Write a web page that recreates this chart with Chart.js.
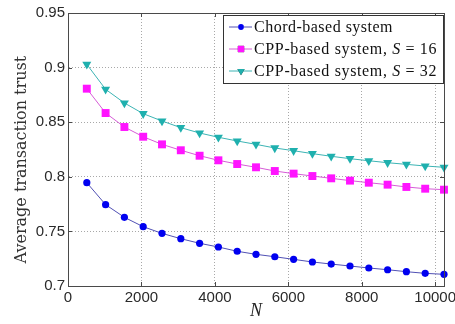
<!DOCTYPE html>
<html>
<head>
<meta charset="utf-8">
<script src="https://cdn.jsdelivr.net/npm/chart.js@4/dist/chart.umd.min.js"></script>
<style>
  body { margin: 0; background: #fff; }
  #wrap { width: 455px; height: 324px; }
</style>
</head>
<body>
<div id="wrap"><canvas id="trustChart" width="455" height="324"></canvas></div>
<script>
// network size N
const nValues = [512, 1024, 1536, 2048, 2560, 3072, 3584, 4096, 4608, 5120,
                 5632, 6144, 6656, 7168, 7680, 8192, 8704, 9216, 9728, 10240];

const chordTrust = [0.7946, 0.7745, 0.7629, 0.7543, 0.7482, 0.7433, 0.7391, 0.7357, 0.7318, 0.7290,
                    0.7268, 0.7244, 0.7220, 0.7201, 0.7183, 0.7165, 0.7149, 0.7131, 0.7116, 0.7107];
const cpp16Trust = [0.8807, 0.8584, 0.8456, 0.8367, 0.8297, 0.8243, 0.8193, 0.8151, 0.8117, 0.8087,
                    0.8053, 0.8029, 0.8007, 0.7986, 0.7965, 0.7946, 0.7928, 0.7907, 0.7891, 0.7882];
const cpp32Trust = [0.9030, 0.8801, 0.8676, 0.8578, 0.8511, 0.8450, 0.8401, 0.8362, 0.8328, 0.8297,
                    0.8264, 0.8239, 0.8212, 0.8188, 0.8166, 0.8147, 0.8129, 0.8114, 0.8099, 0.8087];

const xTicks = [0, 2000, 4000, 6000, 8000, 10000];
const yTicks = [0.7, 0.75, 0.8, 0.85, 0.9, 0.95];

const seriesLabels = [
  ['Chord-based system'],
  ['CPP-based system, ', 'S', ' = 16'],
  ['CPP-based system, ', 'S', ' = 32']
];

function toPoints(ys) {
  return nValues.map((n, i) => ({ x: n, y: ys[i] }));
}

const axisColor = '#4a4a4a';

// box around the axes, inward tick marks and the legend
const matlabBox = {
  id: 'matlabBox',
  afterDatasetsDraw(chart) {
    const ctx = chart.ctx;
    const a = chart.chartArea;
    const xs = chart.scales.x, ys = chart.scales.y;
    ctx.save();
    ctx.setLineDash([]);
    ctx.strokeStyle = axisColor;
    ctx.lineWidth = 1;
    ctx.strokeRect(Math.round(a.left) + 0.5, Math.round(a.top) + 0.5,
                   Math.round(a.right - a.left), Math.round(a.bottom - a.top));
    ctx.beginPath();
    xTicks.forEach(v => {
      const px = Math.round(xs.getPixelForValue(v)) + 0.5;
      ctx.moveTo(px, a.bottom); ctx.lineTo(px, a.bottom - 4);
      ctx.moveTo(px, a.top); ctx.lineTo(px, a.top + 4);
    });
    yTicks.forEach(v => {
      const py = Math.round(ys.getPixelForValue(v)) + 0.5;
      ctx.moveTo(a.left, py); ctx.lineTo(a.left + 4, py);
      ctx.moveTo(a.right, py); ctx.lineTo(a.right - 4, py);
    });
    ctx.stroke();

    // legend
    const bx = 223.5, by = 15.5, bw = 220, bh = 68;
    ctx.fillStyle = '#fff';
    ctx.fillRect(bx, by, bw, bh);
    ctx.strokeStyle = '#333';
    ctx.strokeRect(bx, by, bw, bh);
    const rows = [27, 49, 71];
    const textWidths = [139, 183, 183];
    chart.data.datasets.forEach((ds, i) => {
      const y = rows[i];
      ctx.strokeStyle = ds.borderColor;
      ctx.lineWidth = 1;
      ctx.beginPath();
      ctx.moveTo(229, y); ctx.lineTo(252, y);
      ctx.stroke();
      Chart.helpers.drawPoint(ctx, {
        pointStyle: ds.pointStyle, rotation: ds.pointRotation || 0,
        radius: ds.pointRadius * 0.8, borderWidth: 0
      }, 241, y);
      ctx.fillStyle = ds.pointBackgroundColor;
      ctx.fill();

      const parts = seriesLabels[i];
      const fontOf = j => (j === 1 ? 'italic ' : '') + '16px "Liberation Serif"';
      ctx.letterSpacing = '0px';
      let natural = 0, chars = 0;
      parts.forEach((p, j) => { ctx.font = fontOf(j); natural += ctx.measureText(p).width; chars += p.length; });
      const spacing = (textWidths[i] - natural) / chars;
      ctx.letterSpacing = spacing.toFixed(2) + 'px';
      let tx = 254;
      ctx.fillStyle = '#111';
      ctx.textBaseline = 'middle';
      parts.forEach((p, j) => {
        ctx.font = fontOf(j);
        ctx.fillText(p, tx, y + 1);
        tx += ctx.measureText(p).width;
      });
      ctx.letterSpacing = '0px';
    });
    ctx.restore();
  }
};

new Chart(document.getElementById('trustChart'), {
  type: 'line',
  data: {
    datasets: [
      {
        label: 'Chord-based system',
        data: toPoints(chordTrust),
        borderColor: '#5050b4',
        borderWidth: 1,
        pointStyle: 'circle',
        pointRadius: 3.6,
        pointBackgroundColor: '#0000f0',
        pointBorderWidth: 0,
        clip: false
      },
      {
        label: 'CPP-based system, S = 16',
        data: toPoints(cpp16Trust),
        borderColor: '#d65cd6',
        borderWidth: 1,
        pointStyle: 'rect',
        pointRadius: 5.6,
        pointBackgroundColor: '#ff14ff',
        pointBorderWidth: 0,
        clip: false
      },
      {
        label: 'CPP-based system, S = 32',
        data: toPoints(cpp32Trust),
        borderColor: '#3cb4b4',
        borderWidth: 1,
        pointStyle: 'triangle',
        pointRotation: 180,
        pointRadius: 5.2,
        pointBackgroundColor: '#1fb0ae',
        pointBorderWidth: 0,
        clip: false
      }
    ]
  },
  options: {
    responsive: false,
    animation: false,
    events: [],
    layout: { padding: { left: 0, right: 11, top: 13, bottom: 0 } },
    plugins: { legend: { display: false }, tooltip: { enabled: false } },
    scales: {
      x: {
        type: 'linear',
        min: 0,
        max: 10240,
        afterBuildTicks: s => { s.ticks = xTicks.map(v => ({ value: v })); },
        afterFit: s => { s.height = 38; s.paddingLeft = 0; s.paddingRight = 0; },
        ticks: {
          callback: v => String(v),
          font: { family: '"Liberation Sans"', size: 15 },
          color: '#2a2a2a',
          padding: 3,
          maxRotation: 0
        },
        grid: { color: '#a8a8a8', drawTicks: false },
        border: { display: true, color: axisColor, dash: [1, 2] },
        title: {
          display: true,
          text: 'N',
          font: { family: '"Liberation Serif"', size: 18, style: 'italic' },
          color: '#222',
          padding: { top: 0, bottom: 2 }
        }
      },
      y: {
        min: 0.7,
        max: 0.95,
        afterBuildTicks: s => { s.ticks = yTicks.map(v => ({ value: v })); },
        afterFit: s => { s.width = 68; },
        ticks: {
          callback: v => String(v),
          font: { family: '"Liberation Sans"', size: 15 },
          color: '#2a2a2a',
          padding: 3
        },
        grid: { color: '#a8a8a8', drawTicks: false },
        border: { display: true, color: axisColor, dash: [1, 2] },
        title: {
          display: true,
          text: 'Average transaction trust    ',
          font: { family: '"DejaVu Serif"', size: 16, weight: 'normal' },
          color: '#333',
          padding: { top: 12, bottom: 0 }
        }
      }
    }
  },
  plugins: [matlabBox]
});
</script>
</body>
</html>
